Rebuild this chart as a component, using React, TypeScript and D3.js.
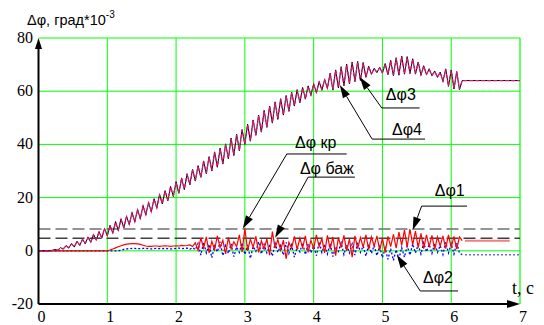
import React, { useEffect, useRef } from 'react';
import * as d3 from 'd3';

// sampling step of the recorded signals, seconds
const dt = 0.04;

// Δφ3 (black) and Δφ4 (magenta), t = 0 .. 6.16
const dphi3 = [
  0, 0, 0, 0, 0, 0.1, 0.5, 0.2, 1.2, 0.6,
  2.0, 1.0, 2.8, 1.4, 3.6, 2.0, 4.4, 2.6, 5.2, 3.2,
  6.2, 4.0, 7.2, 4.8, 8.4, 5.6, 9.6, 6.6, 11.0, 7.6,
  12.0, 8.6, 13.0, 9.8, 14.4, 10.8, 15.6, 12.0, 17.0, 13.4,
  18.2, 14.6, 19.6, 16.0, 21.2, 17.6, 22.6, 18.8, 24.2, 20.4,
  26.0, 21.6, 27.4, 23.0, 29.0, 24.8, 30.6, 26.2, 32.0, 27.6,
  33.8, 29.0, 35.4, 30.0, 37.2, 31.4, 38.6, 32.6, 40.2, 34.6,
  42.4, 35.8, 43.8, 37.6, 45.6, 40.0, 47.6, 41.2, 49.2, 43.4,
  51.0, 44.6, 52.8, 46.4, 54.4, 48.0, 56.0, 49.4, 57.2, 51.0,
  58.4, 52.4, 59.6, 54.4, 60.6, 55.6, 61.4, 57.0, 62.0, 58.4,
  62.8, 59.4, 63.6, 60.4, 64.4, 61.0, 66.8, 60.4, 68.0, 61.2,
  69.2, 62.0, 70.2, 62.8, 71.0, 63.6, 71.2, 64.0, 70.8, 65.2,
  69.4, 66.4, 68.6, 67.0, 69.0, 66.8, 70.4, 66.2, 71.6, 65.8,
  72.6, 66.0, 73.2, 66.4, 73.0, 66.6, 72.2, 66.4, 71.0, 66.0,
  69.6, 66.2, 68.4, 65.8, 67.6, 65.2, 67.2, 63.6, 68.4, 61.8,
  68.0, 60.8, 67.4, 60.6, 64.0,
];
const dphi4 = [
  0, 0, 0, 0, 0, 0.2, 0.4, 0.3, 1.0, 0.8,
  1.8, 1.2, 2.6, 1.6, 3.4, 2.2, 4.2, 2.8, 5.0, 3.4,
  6.0, 4.2, 7.0, 5.0, 8.2, 5.8, 9.4, 6.8, 10.6, 7.8,
  11.8, 8.8, 12.8, 10.0, 14.2, 11.0, 15.4, 12.2, 16.8, 13.6,
  18.0, 14.8, 19.4, 16.2, 21.0, 17.8, 22.4, 19.0, 24.0, 20.6,
  25.8, 21.8, 27.2, 23.2, 28.8, 25.0, 30.4, 26.4, 31.8, 27.8,
  33.6, 29.2, 35.2, 30.2, 37.0, 31.6, 38.4, 32.8, 40.0, 34.8,
  42.2, 36.0, 43.6, 37.8, 45.4, 40.2, 47.4, 41.4, 49.0, 43.6,
  50.8, 44.8, 52.6, 46.6, 54.2, 48.2, 55.8, 49.6, 57.0, 51.2,
  58.2, 52.6, 59.4, 54.6, 60.4, 55.8, 61.2, 57.2, 61.8, 58.6,
  62.6, 59.6, 63.4, 60.6, 64.2, 61.2, 66.6, 60.6, 67.8, 61.4,
  69.0, 62.2, 70.0, 63.0, 70.8, 63.8, 71.0, 64.2, 70.6, 65.4,
  69.2, 66.6, 68.4, 67.2, 68.8, 67.0, 70.2, 66.4, 71.4, 66.0,
  72.4, 66.2, 73.0, 66.6, 72.8, 66.8, 72.0, 66.6, 70.8, 66.2,
  69.4, 66.4, 68.2, 66.0, 67.4, 65.4, 67.0, 63.8, 68.2, 62.0,
  67.8, 61.0, 67.2, 60.8, 64.0,
];
// steady value after the transient
const steady34 = 64.0;

// Δφ1 (red), t = 0 .. 6.16
const dphi1 = [
  0, 0, 0, 0, 0, 0, 0, 0, 0, 0,
  0, 0, 0, 0, 0, 0, 0, 0, 0, 0,
  0, 0, 0, 0, 0, 0, 0.3, 0.7, 1.1, 1.5,
  1.9, 2.2, 2.5, 2.6, 2.7, 2.7, 2.6, 2.4, 2.1, 1.8,
  1.7, 1.7, 1.8, 1.8, 1.7, 1.8, 1.9, 1.8, 1.7, 1.8,
  1.9, 1.8, 2.0, 1.9, 2.0, 2.2, 1.6, 3.0, 0.2, 4.8,
  1.0, 5.2, -0.8, 3.6, 0.4, 5.6, 1.2, 4.0, -1.2, 5.0,
  0.8, 3.4, 1.6, 6.0, -0.4, 8.4, 0.0, 4.4, 1.4, 5.4,
  -0.6, 3.8, 0.6, 4.6, -1.6, 7.2, 1.0, 4.2, 0.2, 4.0,
  -3.0, 3.2, 1.0, 5.4, 0.4, 4.8, 1.2, 5.6, -0.6, 4.0,
  0.8, 6.0, 1.6, 4.6, -0.8, 5.8, 0.6, 5.2, -1.8, 5.0,
  1.2, 5.8, 0.0, 4.4, -2.4, 5.6, 0.8, 5.0, 1.4, 6.0,
  0.4, 5.2, 1.8, 5.6, 0.2, 4.8, -0.6, 5.4, 1.6, 6.2,
  1.0, 7.0, 2.0, 7.8, 1.4, 8.2, 2.2, 7.4, 1.2, 6.6,
  0.8, 6.0, 1.6, 5.8, 0.4, 5.2, 1.8, 5.6, 0.8, 6.0,
  1.2, 5.4, 0.6, 5.2, 3.8,
];
const tail1 = { from: 6.2, to: 6.85, value: 3.8 };

// Δφ2 (blue, dotted), t = 0 .. 6.16
const dphi2 = [
  0, 0, 0, 0, 0, 0, 0, 0, 0, 0,
  0, 0, 0, 0, 0, 0, 0, 0, 0, 0,
  0, 0, 0, 0, 0, 0, 0, 0, 0, 0,
  0.2, 0.5, 0.7, 0.8, 0.9, 0.9, 0.8, 0.8, 0.9, 0.9,
  0.8, 0.7, 0.8, 0.9, 0.8, 0.8, 0.9, 0.8, 0.7, 0.8,
  0.9, 1.0, 0.8, 0.9, 1.0, 0.6, 1.2, 0.4, 2.8, -1.6,
  3.2, -0.8, 2.4, -2.6, 1.8, -0.4, 3.4, -1.8, 2.0, -1.0,
  2.6, -2.2, 1.4, -0.6, 3.0, -1.4, 2.2, -2.8, 1.6, -0.2,
  3.4, -1.2, 2.4, -0.8, 1.8, -2.0, 2.8, -0.6, 2.0, -1.6,
  3.2, -1.0, 2.2, -2.4, 1.4, -0.4, 3.0, -1.4, 2.6, -0.8,
  1.8, -1.8, 3.4, -0.6, 2.4, -1.2, 2.8, -2.2, 1.6, -0.2,
  3.0, -1.4, 2.2, -0.8, 2.6, -1.6, 3.2, -0.6, 1.8, -2.0,
  2.4, -1.0, 2.0, -1.8, 1.6, -2.6, 1.0, -3.2, 0.8, -3.6,
  0.4, -3.0, 1.2, -2.4, 1.8, -1.6, 2.6, -0.8, 2.2, -1.2,
  3.0, -0.4, 2.4, -1.0, 2.8, -0.6, 2.0, -1.4, 3.2, -0.8,
  2.6, -1.2, 3.0, -0.8, -1.5,
];
const tail2 = { from: 6.2, to: 7.0, value: -1.5 };

// threshold levels
const levelKr = 8.2;
const levelBazh = 4.7;

const xTicks = [0, 1, 2, 3, 4, 5, 6, 7];
const yTicks = [-20, 0, 20, 40, 60, 80];

// callouts: label, arrow tip (t, value), shelf start/end (t), shelf level, text position
const callouts = [
  { label: 'Δφ3', tip: [4.67, 65.3], shelf: [4.99, 5.54], level: 53.7, text: [5.05, 56.7] },
  { label: 'Δφ4', tip: [4.38, 62.3], shelf: [4.85, 5.62], level: 42.0, text: [5.14, 43.5] },
  { label: 'Δφ кр', tip: [2.97, 8.4], shelf: [3.61, 4.48], level: 36.4, text: [3.73, 38.6] },
  { label: 'Δφ баж', tip: [3.44, 4.9], shelf: [3.92, 4.6], level: 27.7, text: [3.8, 28.9] },
  { label: 'Δφ1', tip: [5.44, 7.8], shelf: [5.57, 6.23], level: 16.8, text: [5.76, 20.6] },
  { label: 'Δφ2', tip: [5.21, -1.6], shelf: [5.55, 6.1], level: -15.1, text: [5.59, -12.1] },
];

const W = 544;
const H = 325;

const App: React.FC = () => {
  const svgRef = useRef<SVGSVGElement>(null);

  useEffect(() => {
    if (!svgRef.current) return;
    const svg = d3.select(svgRef.current);
    svg.selectAll('*').remove();

    const x = d3.scaleLinear().domain([0, 7]).range([38.5, 520]);
    const y = d3.scaleLinear().domain([-20, 80]).range([304, 38]);

    const toPts = (vals: number[]) => vals.map((v, i) => [i * dt, v] as [number, number]);
    const line = d3
      .line<[number, number]>()
      .x((d) => x(d[0]))
      .y((d) => y(d[1]));

    // grid
    const grid = svg.append('g').attr('stroke', '#00ff00').attr('stroke-width', 1);
    xTicks.filter((t) => t > 0).forEach((t) => {
      grid.append('line')
        .attr('x1', x(t)).attr('x2', x(t))
        .attr('y1', y(80)).attr('y2', y(-20))
        .attr('stroke-width', t === 7 ? 2 : 1)
        .attr('stroke', t === 7 ? '#66ff66' : '#00ff00');
    });
    yTicks.filter((v) => v > -20).forEach((v) => {
      grid.append('line')
        .attr('x1', x(0)).attr('x2', x(7))
        .attr('y1', y(v)).attr('y2', y(v));
    });

    // threshold dashes
    [[levelKr, '#707070'], [levelBazh, '#404040']].forEach(([lv, c]) => {
      svg.append('line')
        .attr('x1', x(0)).attr('x2', x(7))
        .attr('y1', y(lv as number)).attr('y2', y(lv as number))
        .attr('stroke', c as string)
        .attr('stroke-width', 1.6)
        .attr('stroke-dasharray', '12,5');
    });

    // Δφ2 blue dotted
    svg.append('path')
      .attr('d', line(toPts(dphi2)))
      .attr('fill', 'none')
      .attr('stroke', '#0000ff')
      .attr('stroke-width', 1.3)
      .attr('stroke-dasharray', '2,2');
    svg.append('path')
      .attr('d', line([[tail2.from, tail2.value], [tail2.to, tail2.value]]))
      .attr('fill', 'none')
      .attr('stroke', '#6666ff')
      .attr('stroke-width', 1.5)
      .attr('stroke-dasharray', '2,2');

    // Δφ1 red
    svg.append('path')
      .attr('d', line(toPts(dphi1)))
      .attr('fill', 'none')
      .attr('stroke', '#ff0000')
      .attr('stroke-width', 1.2);
    svg.append('path')
      .attr('d', line([[tail1.from, tail1.value], [tail1.to, tail1.value]]))
      .attr('fill', 'none')
      .attr('stroke', '#f47c7c')
      .attr('stroke-width', 2);

    // Δφ3 black, Δφ4 magenta dashed on top
    const p3 = toPts(dphi3);
    p3.push([7, steady34]);
    const p4 = toPts(dphi4);
    p4.push([7, steady34]);
    svg.append('path')
      .attr('d', line(p3))
      .attr('fill', 'none')
      .attr('stroke', '#000000')
      .attr('stroke-width', 1);
    svg.append('path')
      .attr('d', line(p4))
      .attr('fill', 'none')
      .attr('stroke', '#e0157a')
      .attr('stroke-width', 1.3)
      .attr('stroke-dasharray', '4,2');

    // axes with arrows
    const ax = svg.append('g').attr('stroke', '#000').attr('stroke-width', 2);
    ax.append('line').attr('x1', x(0)).attr('x2', x(0)).attr('y1', y(-20)).attr('y2', y(80) + 8);
    ax.append('line').attr('x1', x(0)).attr('x2', x(7) - 10).attr('y1', y(-20)).attr('y2', y(-20));
    svg.append('path')
      .attr('d', `M${x(0)},${y(80)} L${x(0) - 3.5},${y(80) + 11} L${x(0) + 3.5},${y(80) + 11} Z`)
      .attr('fill', '#000');
    svg.append('path')
      .attr('d', `M${x(7)},${y(-20)} L${x(7) - 13},${y(-20) - 4} L${x(7) - 13},${y(-20) + 4} Z`)
      .attr('fill', '#000');

    // tick labels
    const serif = '"Liberation Serif", "Times New Roman", serif';
    svg.append('g')
      .selectAll('text')
      .data(yTicks)
      .enter()
      .append('text')
      .attr('x', 33)
      .attr('y', (d) => y(d) + 5)
      .attr('text-anchor', 'end')
      .attr('font-family', serif)
      .attr('font-size', 16)
      .text((d) => (d < 0 ? `-${Math.abs(d)}` : `${d}`));
    svg.append('g')
      .selectAll('text')
      .data(xTicks)
      .enter()
      .append('text')
      .attr('x', (d) => x(d) + 3)
      .attr('y', 322)
      .attr('text-anchor', 'middle')
      .attr('font-family', serif)
      .attr('font-size', 16)
      .text((d) => `${d}`);
    svg.append('text')
      .attr('x', 512)
      .attr('y', 294)
      .attr('font-family', serif)
      .attr('font-size', 18)
      .text('t, c');

    // y axis title
    const sans = '"Liberation Sans", Arial, sans-serif';
    const title = svg.append('text')
      .attr('x', 27)
      .attr('y', 25)
      .attr('font-family', sans)
      .attr('font-size', 14.5);
    title.append('tspan').text('Δφ, град*10');
    title.append('tspan').attr('dy', -7).attr('font-size', 10).text('-3');

    // callouts
    callouts.forEach((c) => {
      const sx = x(c.shelf[0]);
      const sy = y(c.level);
      const tx = x(c.tip[0]);
      const ty = y(c.tip[1]);
      svg.append('line')
        .attr('x1', sx).attr('x2', x(c.shelf[1]))
        .attr('y1', sy).attr('y2', sy)
        .attr('stroke', '#000').attr('stroke-width', 1);
      const ang = Math.atan2(ty - sy, tx - sx);
      const len = 13;
      const wid = 4;
      const bx = tx - len * Math.cos(ang);
      const by = ty - len * Math.sin(ang);
      svg.append('line')
        .attr('x1', sx).attr('y1', sy)
        .attr('x2', bx).attr('y2', by)
        .attr('stroke', '#000').attr('stroke-width', 1);
      const px = -Math.sin(ang) * wid;
      const py = Math.cos(ang) * wid;
      svg.append('path')
        .attr('d', `M${tx},${ty} L${bx + px},${by + py} L${bx - px},${by - py} Z`)
        .attr('fill', '#000');
      svg.append('text')
        .attr('x', x(c.text[0]))
        .attr('y', y(c.text[1]))
        .attr('font-family', sans)
        .attr('font-size', 16)
        .text(c.label);
    });
  }, []);

  return (
    <svg
      ref={svgRef}
      width={W}
      height={H}
      style={{ position: 'absolute', left: 0, top: 0, background: '#fff' }}
    />
  );
};

export default App;
